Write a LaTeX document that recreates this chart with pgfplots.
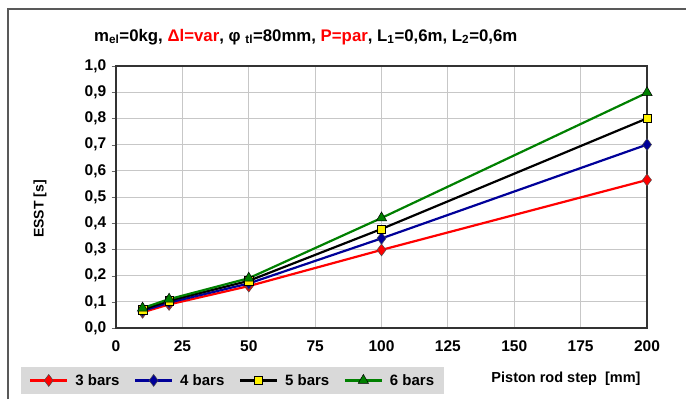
\documentclass[border=0pt]{standalone}
\usepackage{pgfplots}
\pgfplotsset{compat=1.18}
\usepackage{fontspec}
\setmainfont{Liberation Sans}
\definecolor{lgray}{HTML}{D9D9D9}
\definecolor{dblue}{HTML}{000099}
\definecolor{dgreen}{HTML}{008000}
\begin{document}
\begin{tikzpicture}[x=1bp,y=1bp]
\useasboundingbox (0,0) rectangle (686,399);
\draw[line width=2bp, color=black!65] (8,0) -- (8,390) -- (686,390);
\node[anchor=west,font=\bfseries\fontsize{16.8bp}{19bp}\selectfont,inner sep=0] at (94,362)
 {m\textsubscript{el}=0kg, \textcolor{red}{Δl=var}, φ \textsubscript{tl}=80mm, \textcolor{red}{P=par}, L\textsubscript{1}=0,6m, L\textsubscript{2}=0,6m};
\begin{axis}[
  at={(116bp,71bp)}, anchor=south west,
  scale only axis, width=531bp, height=262bp,
  xmin=0, xmax=200, ymin=0, ymax=1,
  xtick={0,25,...,200}, ytick={0,0.1,...,1.0},
  grid=major, grid style={color=black!22, line width=1bp},
  axis line style={line width=1.2bp, color=black!80},
  tick style={color=black!60},
  tick align=outside, xtick pos=bottom, ytick pos=left,
  major x tick style={draw=none},
  /pgf/number format/assume math mode=true,
  ticklabel style={font=\bfseries\fontsize{15.5bp}{17bp}\selectfont},
  yticklabel={\pgfmathprintnumber[fixed,fixed zerofill,precision=1,use comma]{\tick}},
  xticklabel={\pgfmathprintnumber[fixed,precision=0]{\tick}},
  xticklabel style={yshift=-5bp},
  yticklabel style={xshift=-2bp},
  legend columns=4,
  legend style={at={(rel axis cs:-0.179,-0.149)}, anchor=north west, fill=lgray, draw=none,
    font=\bfseries\fontsize{15bp}{17bp}\selectfont, inner xsep=8bp, inner ysep=5bp,
    /tikz/every odd column/.append style={column sep=5bp},
    /tikz/every even column/.append style={column sep=12.5bp}},
  legend image code/.code={\draw[mark repeat=2,mark phase=2] plot coordinates {(0bp,0bp) (18.5bp,0bp) (37bp,0bp)};},
  every axis plot/.append style={line width=2.2bp},
]
\addplot[color=red, mark=diamond*, mark size=6bp, mark options={fill=red, draw=black!70, line width=0.5bp}]
 coordinates {(10,0.06) (20,0.09) (50,0.16) (100,0.298) (200,0.565)};
\addlegendentry{3 bars}
\addplot[color=dblue, mark=diamond*, mark size=6bp, mark options={fill=dblue, draw=black!70, line width=0.5bp}]
 coordinates {(10,0.065) (20,0.097) (50,0.17) (100,0.342) (200,0.70)};
\addlegendentry{4 bars}
\addplot[color=black, mark=square*, mark size=4.2bp, mark options={fill=yellow, draw=black, line width=0.5bp}]
 coordinates {(10,0.07) (20,0.104) (50,0.18) (100,0.378) (200,0.80)};
\addlegendentry{5 bars}
\addplot[color=dgreen, mark=triangle*, mark size=6bp, mark options={fill=dgreen, draw=black, line width=0.5bp}]
 coordinates {(10,0.076) (20,0.11) (50,0.19) (100,0.42) (200,0.898)};
\addlegendentry{6 bars}
\end{axis}
\node[font=\bfseries\fontsize{14.5bp}{17bp}\selectfont] at (566,20) {Piston rod step~~[mm]};
\node[rotate=90,font=\bfseries\fontsize{14bp}{17bp}\selectfont] at (40,190) {ESST [s]};
\end{tikzpicture}
\end{document}
